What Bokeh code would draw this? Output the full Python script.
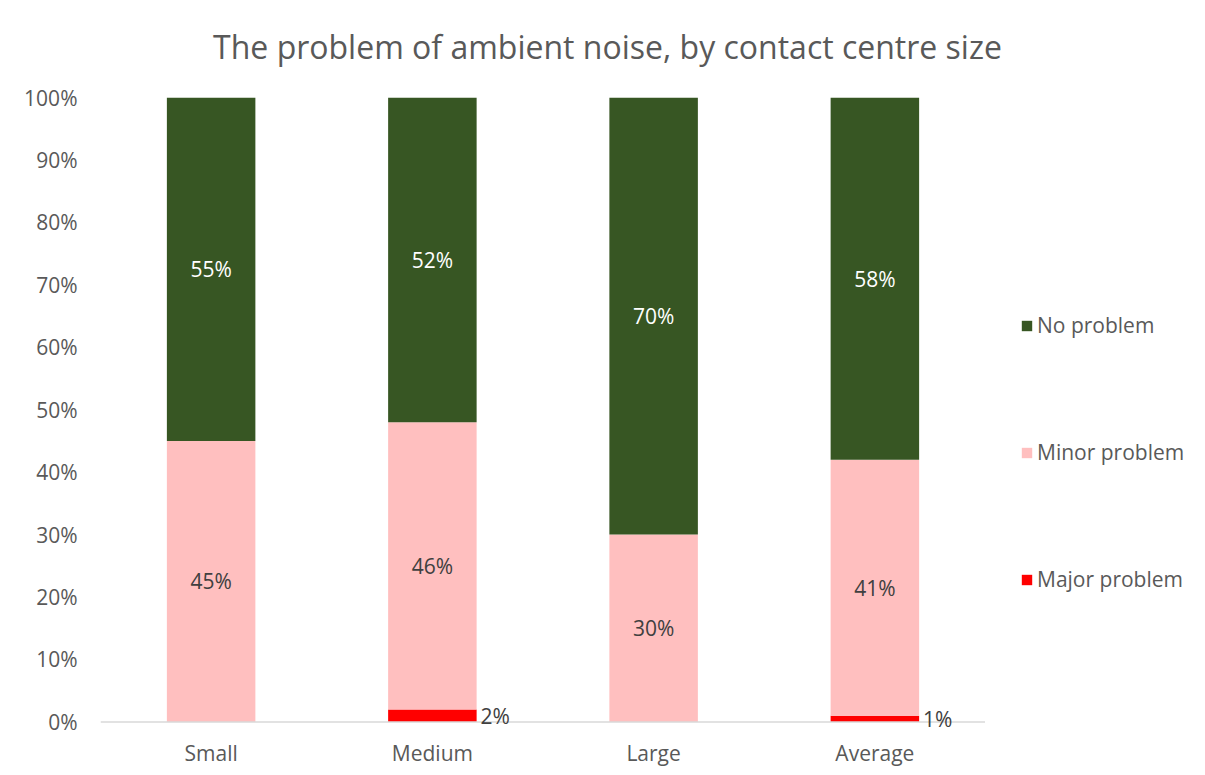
from bokeh.plotting import figure
from bokeh.layouts import row, column
from bokeh.models import (ColumnDataSource, FactorRange, Range1d, FixedTicker,
                          PrintfTickFormatter, Legend, LegendItem, LabelSet, Span)
from bokeh.core.properties import value
from bokeh.embed import file_html
from bokeh.resources import INLINE

title_text = "The problem of ambient noise, by contact centre size"
categories = ["Small", "Medium", "Large", "Average"]
major_problem = [0, 2, 0, 1]
minor_problem = [45, 46, 30, 41]
no_problem = [55, 52, 70, 58]
series_names = ["No problem", "Minor problem", "Major problem"]
y_ticks = [0, 10, 20, 30, 40, 50, 60, 70, 80, 90, 100]

FONT = "Open Sans"
GRAY = "#595959"
C_MAJOR = "#FF0000"
C_MINOR = "#FFBFBF"
C_NO = "#375623"


def bare(fig):
    fig.outline_line_color = None
    fig.xgrid.visible = False
    fig.ygrid.visible = False
    return fig


# ---- title strip ----
pt = bare(figure(width=1200, height=80, x_range=Range1d(0, 1200), y_range=Range1d(0, 80),
                 output_backend="svg", toolbar_location=None, min_border=0,
                 x_axis_location=None, y_axis_location=None))
pt.text(x=[607], y=[34], text=[title_text], text_align="center", text_baseline="middle",
        text_font=value(FONT), text_font_size="32px", text_color=GRAY)

# ---- main chart ----
src = ColumnDataSource(dict(cat=categories, major=major_problem,
                            minor=minor_problem, no=no_problem))

p = bare(figure(width=985, height=690, x_range=FactorRange(*categories, range_padding=0),
                y_range=Range1d(-2.5, 100), output_backend="svg", toolbar_location=None,
                min_border_left=100, min_border_right=0, min_border_top=17,
                min_border_bottom=33))

renderers = p.vbar_stack(["major", "minor", "no"], x="cat", width=0.4, source=src,
                         color=[C_MAJOR, C_MINOR, C_NO], line_color=None)
p.add_layout(Span(location=0, dimension="width", line_color="#D9D9D9", line_width=1.5))

p.yaxis.ticker = FixedTicker(ticks=y_ticks)
p.yaxis.formatter = PrintfTickFormatter(format="%d%%")
p.yaxis.axis_line_color = None
p.yaxis.major_tick_line_color = None
p.yaxis.minor_tick_line_color = None
p.yaxis.major_tick_out = 0
p.yaxis.major_tick_in = 0
p.yaxis.major_label_standoff = 23
p.yaxis.major_label_text_font = FONT
p.yaxis.major_label_text_font_size = "21px"
p.yaxis.major_label_text_color = GRAY

p.xaxis.axis_line_color = None
p.xaxis.major_tick_line_color = None
p.xaxis.minor_tick_line_color = None
p.xaxis.major_tick_out = 0
p.xaxis.major_tick_in = 0
p.xaxis.major_label_standoff = 1
p.xaxis.major_label_text_font = FONT
p.xaxis.major_label_text_font_size = "21px"
p.xaxis.major_label_text_color = GRAY

# data labels
no_y, no_t, min_y, min_t, maj_y, maj_t, maj_c = [], [], [], [], [], [], []
for c, a, b, n in zip(categories, major_problem, minor_problem, no_problem):
    no_y.append(a + b + n / 2)
    no_t.append(f"{n}%")
    min_y.append(a + b / 2)
    min_t.append(f"{b}%")
    if a > 0:
        maj_c.append(c)
        maj_y.append(a / 2)
        maj_t.append(f"{a}%")

common = dict(text_baseline="middle", text_font=value(FONT), text_font_size="21px")
lab_no = LabelSet(x="cat", y="y", text="t", source=ColumnDataSource(dict(cat=categories, y=no_y, t=no_t)),
                  text_align="center", text_color="white", **common)
lab_min = LabelSet(x="cat", y="y", text="t", source=ColumnDataSource(dict(cat=categories, y=min_y, t=min_t)),
                   text_align="center", text_color="#404040", **common)
lab_maj = LabelSet(x="cat", y="y", text="t", source=ColumnDataSource(dict(cat=maj_c, y=maj_y, t=maj_t)),
                   x_offset=48, text_align="left", text_color="#404040", **common)
for l in (lab_no, lab_min, lab_maj):
    p.add_layout(l)

# ---- legend panel ----
p2 = bare(figure(width=215, height=690, x_range=Range1d(0, 1), y_range=Range1d(0, 1),
                 output_backend="svg", toolbar_location=None, min_border=0,
                 x_axis_location=None, y_axis_location=None))
leg_src = ColumnDataSource(dict(x=[0, 0, 0], y=[0, 0, 0], color=[C_NO, C_MINOR, C_MAJOR]))
swatch = p2.rect(x="x", y="y", width=0, height=0, source=leg_src, fill_color="color",
                 line_color=None)
legend = Legend(items=[LegendItem(label=n, renderers=[swatch], index=i)
                       for i, n in enumerate(series_names)],
                location=(35, 144), orientation="vertical", spacing=99,
                glyph_width=13, glyph_height=13, label_standoff=4, padding=0, margin=0,
                label_text_font=FONT, label_text_font_size="21px", label_text_color=GRAY,
                border_line_color=None, background_fill_alpha=0)
p2.add_layout(legend, "center")

layout = column(pt, row(p, p2))
open("out.html", "w").write(file_html(layout, INLINE))
